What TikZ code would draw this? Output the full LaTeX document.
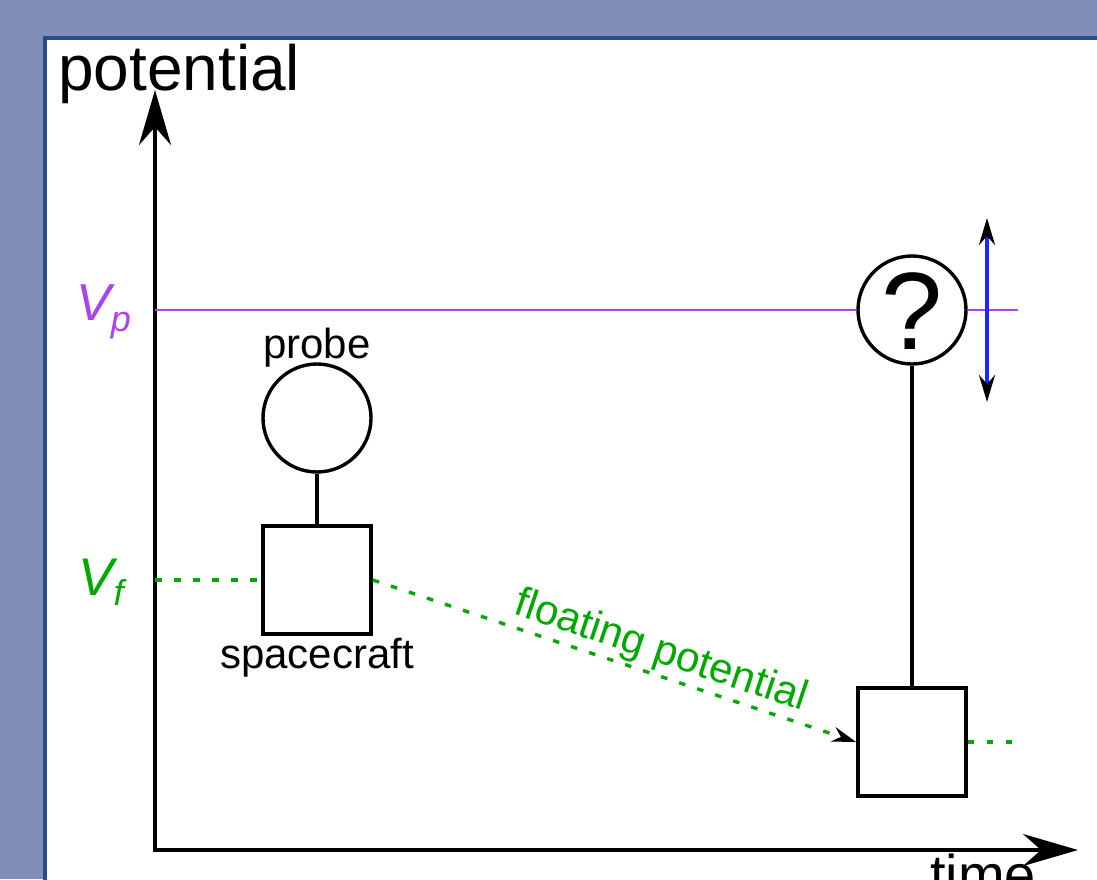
\documentclass[tikz,border=0pt]{standalone}
\usepackage{fontspec}
\setmainfont{Liberation Sans}
\usetikzlibrary{arrows.meta}
\definecolor{bgblue}{RGB}{128,142,184}
\definecolor{frameblue}{RGB}{40,76,136}
\definecolor{vpurple}{RGB}{172,66,240}
\definecolor{vgreen}{RGB}{0,170,0}
\definecolor{arrblue}{RGB}{28,36,255}
\begin{document}
\begin{tikzpicture}[x=1pt,y=-1pt,
  fs/.style={font=\fontsize{#1}{#1}\selectfont},
  txt/.style={inner sep=0pt},
  axes/.style={line width=3.6pt,{Stealth[length=55pt,width=32pt,inset=18pt]}-{Stealth[length=55pt,width=32pt,inset=18pt]}},
  probecirc/.style={circle,draw,line width=3.4pt,fill=white,minimum size=108pt,inner sep=0pt},
  craftbox/.style={rectangle,draw,line width=3.8pt,fill=white,minimum size=108pt,inner sep=0pt},
  tether/.style={line width=3.4pt},
  vpline/.style={vpurple,line width=2.8pt},
  vfline/.style={vgreen,line width=3.4pt,dash pattern=on 6.5pt off 12.5pt},
  swing/.style={arrblue,line width=3.6pt,
    {Stealth[length=27pt,width=16pt,inset=9pt,color=black]}-{Stealth[length=27pt,width=16pt,inset=9pt,color=black]}}
]
\useasboundingbox (0,0) rectangle (1097,879);

% backdrop and white panel
\fill[bgblue] (0,0) rectangle (1097,879);
\draw[frameblue,line width=4pt,fill=white] (45,38) rectangle (1120,900);

% reference levels
\coordinate (O) at (155,850);
\coordinate (ytop) at (155,90);
\coordinate (xend) at (1078,850);
\coordinate (vp0) at (155,310);
\coordinate (vp1) at (1018,310);
\coordinate (vf0) at (155,580);
\coordinate (vf1) at (1012,742);
\coordinate (sw0) at (987,402);
\coordinate (sw1) at (987,218);

% probe and spacecraft
\node[probecirc] (probe) at (317,418) {};
\node[craftbox] (craft) at (317,580) {};
\node[probecirc] (qc) at (912,310) {};
\node[craftbox] (craft2) at (912,742) {};
\node[txt,anchor=base,fs=110] (qmark) at ([yshift=-39pt]qc.center) {?};

% axes
\draw[axes] (ytop) -- (O) -- (xend);

% plasma potential
\draw[vpline] (vp0) -- (qc.west);
\draw[vpline] (qc.east) -- (vp1);

% floating potential
\draw[vfline] (vf0) -- (craft.west);
\draw[vfline,-{Stealth[length=24pt,width=15pt,inset=8pt,color=black]}] (craft.east) -- (craft2.west)
  node[pos=0.58,above,sloped,fs=42,inner sep=2pt,text=vgreen] (fplab) {floating potential};
\draw[vfline] (craft2.east) -- (vf1);

% tethers
\draw[tether] (probe.south) -- (craft.north);
\draw[tether] (qc.south) -- (craft2.north);

% unknown probe swing
\draw[swing] (sw0) -- (sw1);

% labels
\node[txt,anchor=base west,fs=64] (ylab) at (58,90) {potential};
\node[txt,anchor=base west,fs=56] (xlab) at (930,894) {time};
\node[txt,anchor=base,fs=42] (plab) at ([yshift=4pt]probe.north) {probe};
\node[txt,anchor=base,fs=42] (clab) at ([yshift=-33pt]craft.south) {spacecraft};
\node[txt,anchor=base west,fs=52,text=vpurple] (vplab) at (76,320)
  {\itshape V\raisebox{-11pt}{\fontsize{36}{36}\selectfont p}};
\node[txt,anchor=base west,fs=53,text=vgreen] (vflab) at (78,595)
  {\itshape V\raisebox{-10pt}{\fontsize{36}{36}\selectfont f}};
\end{tikzpicture}
\end{document}
